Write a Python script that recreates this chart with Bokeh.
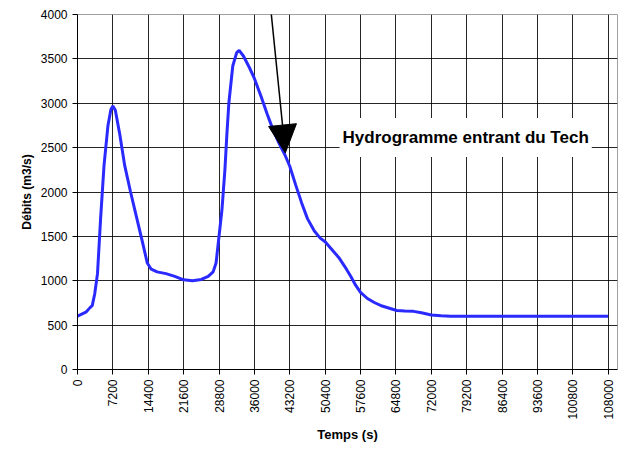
from math import pi
from bokeh.plotting import figure
from bokeh.models import Range1d, FixedTicker, Arrow, NormalHead, Label, BasicTickFormatter
from bokeh.embed import file_html
from bokeh.resources import INLINE

# --- data ---
temps = [0, 1800, 2600, 3000, 3500, 4070, 4700, 5400, 6200, 6800, 7200, 7700, 8600, 9600,
         10800, 12000, 13200, 14200, 15000, 16200, 18000, 19800, 21600, 23400, 25200, 26600,
         27600, 28200, 28800, 29400, 30000, 30400, 30800, 31600, 32400, 32900, 33800, 35000,
         36000, 37400, 38600, 39800, 41000, 42200, 43200, 44400, 45600, 46800, 48200, 49400,
         50400, 51800, 53200, 54400, 55600, 56600, 57600, 59000, 60400, 62000, 63800, 65000,
         66600, 68400, 70000, 72000, 74000, 76000, 78000, 108000]
debits = [600, 650, 700, 720, 850, 1080, 1700, 2300, 2750, 2930, 2970, 2920, 2650, 2300,
          2000, 1720, 1440, 1200, 1130, 1100, 1080, 1050, 1010, 1000, 1015, 1050,
          1100, 1200, 1500, 1800, 2250, 2650, 3000, 3420, 3570, 3595, 3530, 3400,
          3280, 3070, 2880, 2700, 2550, 2420, 2290, 2080, 1880, 1700, 1560, 1480,
          1440, 1350, 1260, 1160, 1050, 950, 870, 800, 755, 715, 685, 665,
          660, 655, 640, 615, 605, 600, 600, 600]

x_ticks = [0, 7200, 14400, 21600, 28800, 36000, 43200, 50400, 57600, 64800, 72000,
           79200, 86400, 93600, 100800, 108000]
y_ticks = [0, 500, 1000, 1500, 2000, 2500, 3000, 3500, 4000]

label_text = "Hydrogramme entrant du Tech"
x_title = "Temps (s)"
y_title = "Débits (m3/s)"

# annotation placement
arrow_start = (38900, 4300)
arrow_end = (42300, 2440)
label_pos = (79000, 2614)

FONT = "Liberation Sans"

p = figure(width=627, height=453, output_backend="svg", toolbar_location=None,
           x_range=Range1d(0, 109900), y_range=Range1d(0, 4000),
           min_border_left=77, min_border_right=10, min_border_top=14, min_border_bottom=84)
p.background_fill_color = "white"
p.border_fill_color = "white"
p.outline_line_color = "#a0a0a0"
p.outline_line_width = 1

p.line(temps, debits, line_color="#2a2aff", line_width=3)

for ax in (p.xaxis[0], p.yaxis[0]):
    ax.axis_line_color = "black"
    ax.major_tick_line_color = "black"
    ax.major_tick_out = 5
    ax.major_tick_in = 0
    ax.minor_tick_line_color = None
    ax.major_label_text_font = FONT
    ax.major_label_text_font_size = "12px"
    ax.major_label_text_color = "black"
    ax.major_label_standoff = 5
    ax.axis_label_text_font = FONT
    ax.axis_label_text_font_style = "bold"
    ax.axis_label_text_color = "black"
    ax.formatter = BasicTickFormatter(use_scientific=False)

p.xaxis.ticker = FixedTicker(ticks=x_ticks)
p.yaxis.ticker = FixedTicker(ticks=y_ticks)
p.xaxis.major_label_orientation = pi / 2
p.xaxis.axis_label = x_title
p.yaxis.axis_label = y_title
p.xaxis.axis_label_text_font_size = "13px"
p.yaxis.axis_label_text_font_size = "12px"
p.xaxis.axis_label_standoff = 4
p.yaxis.axis_label_standoff = 4

p.xgrid.grid_line_color = "black"
p.ygrid.grid_line_color = "black"
p.xgrid.grid_line_alpha = 0.85
p.ygrid.grid_line_alpha = 0.85

arrow = Arrow(x_start=arrow_start[0], y_start=arrow_start[1], x_end=arrow_end[0], y_end=arrow_end[1],
              line_color="black", line_width=1.5,
              end=NormalHead(size=28, fill_color="black", line_color="black"))
p.add_layout(arrow)

lab = Label(x=label_pos[0], y=label_pos[1], text=label_text, text_align="center",
            text_baseline="middle", text_font=FONT, text_font_style="bold",
            text_font_size="17px", text_color="black",
            background_fill_color="white", padding=dict(left=3, right=3, top=10, bottom=10))
p.add_layout(lab)

open("out.html", "w").write(file_html(p, INLINE))
